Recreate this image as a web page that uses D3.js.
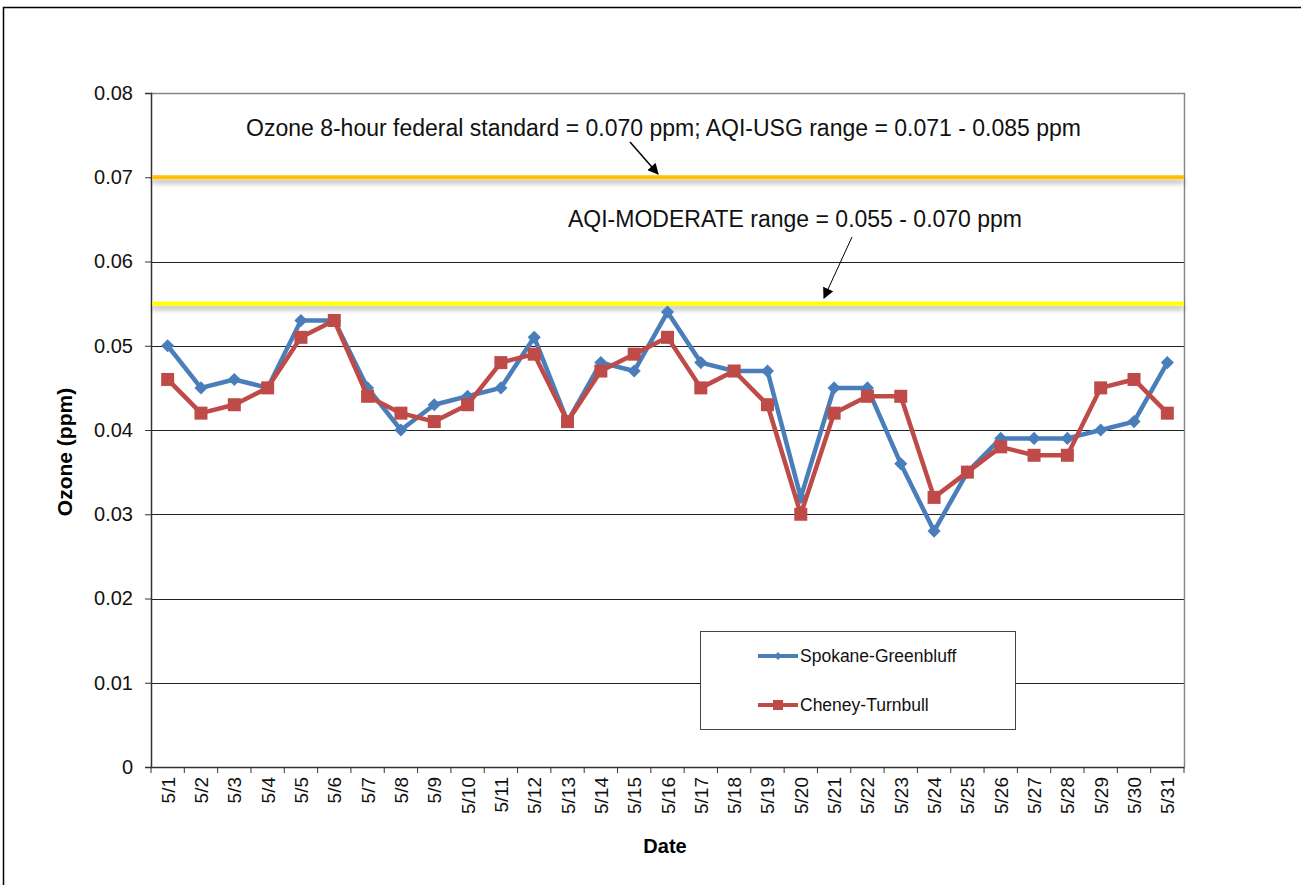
<!DOCTYPE html>
<html>
<head>
<meta charset="utf-8">
<script src="https://cdn.jsdelivr.net/npm/d3@7"></script>
<style>
  body { margin: 0; background: #fff; }
  svg { display: block; font-family: "Liberation Sans", Arial, sans-serif; }
</style>
</head>
<body>
<div id="container"></div>
<script>
// data
const dates = ["5/1","5/2","5/3","5/4","5/5","5/6","5/7","5/8","5/9","5/10","5/11","5/12","5/13","5/14","5/15","5/16",
  "5/17","5/18","5/19","5/20","5/21","5/22","5/23","5/24","5/25","5/26","5/27","5/28","5/29","5/30","5/31"];
const spokane = [0.050,0.045,0.046,0.045,0.053,0.053,0.045,0.040,0.043,0.044,0.045,0.051,0.041,0.048,0.047,0.054,
  0.048,0.047,0.047,0.032,0.045,0.045,0.036,0.028,0.035,0.039,0.039,0.039,0.040,0.041,0.048];
const cheney = [0.046,0.042,0.043,0.045,0.051,0.053,0.044,0.042,0.041,0.043,0.048,0.049,0.041,0.047,0.049,0.051,
  0.045,0.047,0.043,0.030,0.042,0.044,0.044,0.032,0.035,0.038,0.037,0.037,0.045,0.046,0.042];
const yTicks = [0, 0.01, 0.02, 0.03, 0.04, 0.05, 0.06, 0.07, 0.08];
const standardLevel = 0.070;
const moderateLevel = 0.055;

const W = 1301, H = 885;
const plotLeft = 151, plotRight = 1184, plotTop = 93, plotBottom = 767;

let viz = d3.select("#container")
  .append("svg")
    .attr("width", W)
    .attr("height", H)
;

// shadow under the reference lines
let defs = viz.append("defs");
let f = defs.append("filter").attr("id", "shadow")
    .attr("x", "-5%").attr("y", "-100%").attr("width", "110%").attr("height", "400%");
f.append("feDropShadow").attr("dx", 0).attr("dy", 4).attr("stdDeviation", 2.5)
  .attr("flood-color", "#000").attr("flood-opacity", 0.3);

// outer frame
viz.append("rect")
    .attr("x", 3.5).attr("y", 7.5)
    .attr("width", W + 10).attr("height", H + 10)
    .attr("fill", "none").attr("stroke", "black").attr("stroke-width", 1.5)
;

const x = d3.scaleBand().domain(dates).range([plotLeft, plotRight]);
const y = d3.scaleLinear().domain([0, 0.08]).range([plotBottom, plotTop]);

// gridlines
viz.append("g")
  .selectAll("line")
  .data(yTicks.filter(d => d > 0 && d < 0.08))
  .join("line")
    .attr("x1", plotLeft).attr("x2", plotRight)
    .attr("y1", d => Math.round(y(d)) + 0.5).attr("y2", d => Math.round(y(d)) + 0.5)
    .attr("stroke", "#222").attr("stroke-width", 1)
;

// plot area top/right border
viz.append("path")
    .attr("d", `M${plotLeft},${plotTop + 0.5}H${plotRight + 0.5}V${plotBottom}`)
    .attr("fill", "none").attr("stroke", "#888").attr("stroke-width", 1.5)
;

// y axis
let yAxis = viz.append("g")
    .attr("transform", `translate(${plotLeft},0)`)
    .call(d3.axisLeft(y).tickValues(yTicks).tickSize(6).tickPadding(12)
      .tickFormat(d => d === 0 ? "0" : d3.format(".2f")(d)));
yAxis.select(".domain").attr("stroke", "#333").attr("stroke-width", 1.5);
yAxis.selectAll(".tick line").attr("stroke", "#333");
yAxis.selectAll("text").attr("font-size", 20).attr("fill", "#111")
    .attr("font-family", "Liberation Sans, Arial, sans-serif");

// x axis
let xAxis = viz.append("g")
    .attr("transform", `translate(0,${plotBottom})`)
    .call(d3.axisBottom(x).tickSize(0).tickFormat(""));
xAxis.select(".domain").attr("stroke", "#333").attr("stroke-width", 1.5);
// tick marks at band boundaries
viz.append("g")
  .selectAll("line")
  .data(dates.concat(["end"]))
  .join("line")
    .attr("x1", (d, i) => plotLeft + i * x.step()).attr("x2", (d, i) => plotLeft + i * x.step())
    .attr("y1", plotBottom).attr("y2", plotBottom + 6)
    .attr("stroke", "#333").attr("stroke-width", 1)
;
viz.append("g")
  .selectAll("text")
  .data(dates)
  .join("text")
    .text(d => d)
    .attr("transform", d => `translate(${x(d) + x.bandwidth() / 2 + 7},${plotBottom + 10}) rotate(-90)`)
    .attr("text-anchor", "end")
    .attr("font-size", 19)
    .attr("fill", "#111")
;

// axis titles
viz.append("text")
    .text("Ozone (ppm)")
    .attr("transform", `translate(72,452) rotate(-90)`)
    .attr("text-anchor", "middle")
    .attr("font-size", 21)
    .attr("font-weight", "bold")
;
viz.append("text")
    .text("Date")
    .attr("x", 665).attr("y", 853)
    .attr("text-anchor", "middle")
    .attr("font-size", 20)
    .attr("font-weight", "bold")
;

// reference lines
[[standardLevel, "#FFC000"], [moderateLevel, "#FFFF00"]].forEach(([v, c]) => {
  viz.append("rect")
      .attr("x", plotLeft + 1).attr("width", plotRight - plotLeft - 1)
      .attr("y", y(v) - 2).attr("height", 4)
      .attr("fill", c)
      .attr("filter", "url(#shadow)")
  ;
});

// annotations
defs.append("marker")
    .attr("id", "arrow")
    .attr("viewBox", "0 0 10 10")
    .attr("refX", 9).attr("refY", 5)
    .attr("markerWidth", 12).attr("markerHeight", 11)
    .attr("markerUnits", "userSpaceOnUse")
    .attr("orient", "auto")
  .append("path")
    .attr("d", "M0,0L10,5L0,10z")
    .attr("fill", "black")
;
viz.append("text")
    .text("Ozone 8-hour federal standard = 0.070 ppm; AQI-USG range = 0.071 - 0.085 ppm")
    .attr("x", 246).attr("y", 136)
    .attr("font-size", 23)
    .attr("fill", "#111")
;
viz.append("line")
    .attr("x1", 630).attr("y1", 142)
    .attr("x2", 658).attr("y2", 174)
    .attr("stroke", "black").attr("stroke-width", 1.5)
    .attr("marker-end", "url(#arrow)")
;
viz.append("text")
    .text("AQI-MODERATE range = 0.055 - 0.070 ppm")
    .attr("x", 568).attr("y", 227)
    .attr("font-size", 23)
    .attr("fill", "#111")
;
viz.append("line")
    .attr("x1", 852).attr("y1", 237)
    .attr("x2", 824).attr("y2", 298)
    .attr("stroke", "black").attr("stroke-width", 1)
    .attr("marker-end", "url(#arrow)")
;

// series
const cx = d => x(d) + x.bandwidth() / 2;
const series = [
  { name: "Spokane-Greenbluff", values: spokane, color: "#4A7EBB", shape: "diamond" },
  { name: "Cheney-Turnbull", values: cheney, color: "#BE4B48", shape: "square" }
];
const line = d3.line().x((d, i) => cx(dates[i])).y(d => y(d));

series.forEach(s => {
  viz.append("path")
      .datum(s.values)
      .attr("d", line)
      .attr("fill", "none")
      .attr("stroke", s.color)
      .attr("stroke-width", 4.5)
      .attr("stroke-linejoin", "round")
  ;
  if (s.shape === "diamond") {
    viz.append("g")
      .selectAll("path")
      .data(s.values)
      .join("path")
        .attr("d", d3.symbol(d3.symbolDiamond2, 110))
        .attr("transform", (d, i) => `translate(${cx(dates[i])},${y(d)})`)
        .attr("fill", s.color)
    ;
  } else {
    viz.append("g")
      .selectAll("rect")
      .data(s.values)
      .join("rect")
        .attr("x", (d, i) => cx(dates[i]) - 6.5)
        .attr("y", d => y(d) - 6.5)
        .attr("width", 13).attr("height", 13)
        .attr("fill", s.color)
    ;
  }
});

// legend
let legend = viz.append("g");
legend.append("rect")
    .attr("x", 700.5).attr("y", 631.5)
    .attr("width", 315).attr("height", 98)
    .attr("fill", "white").attr("stroke", "#444").attr("stroke-width", 1)
;
series.forEach((s, i) => {
  let ly = 656 + i * 49;
  legend.append("line")
      .attr("x1", 758).attr("x2", 798)
      .attr("y1", ly).attr("y2", ly)
      .attr("stroke", s.color).attr("stroke-width", 4)
  ;
  if (s.shape === "diamond") {
    legend.append("path")
        .attr("d", d3.symbol(d3.symbolDiamond2, 40))
        .attr("transform", `translate(778,${ly})`)
        .attr("fill", s.color)
    ;
  } else {
    legend.append("rect")
        .attr("x", 773).attr("y", ly - 5)
        .attr("width", 10).attr("height", 10)
        .attr("fill", s.color)
    ;
  }
  legend.append("text")
      .text(s.name)
      .attr("x", 800).attr("y", ly + 6)
      .attr("font-size", 17.5)
      .attr("fill", "#111")
  ;
});
</script>
</body>
</html>
